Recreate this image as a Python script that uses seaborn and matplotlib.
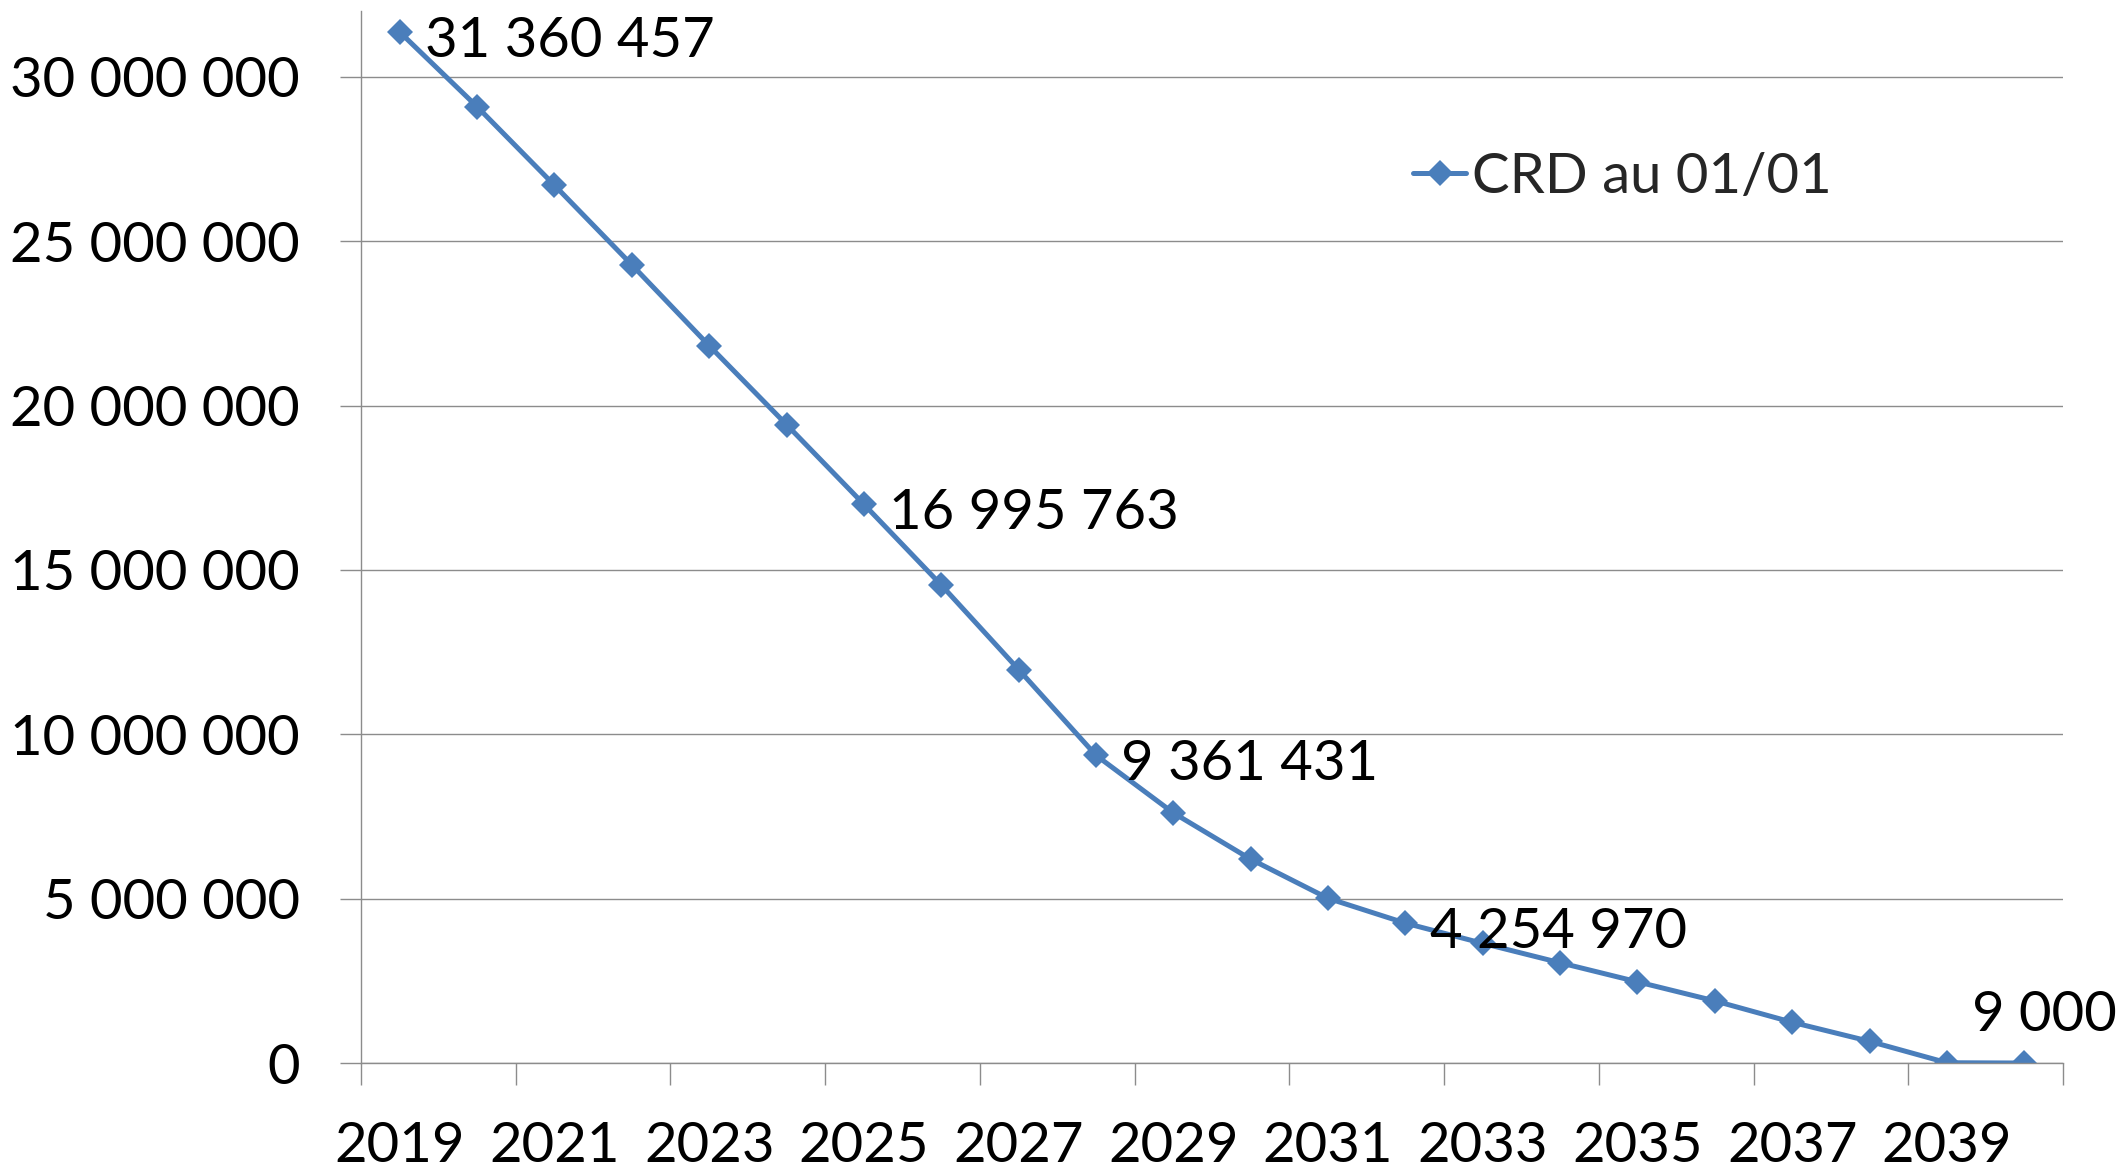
import matplotlib
matplotlib.use("Agg")
import matplotlib.pyplot as plt
from matplotlib.ticker import FuncFormatter
import seaborn as sns
import numpy as np
import pandas as pd

# capital restant du au 01/01, par annee
years = list(range(2019, 2041))
crd = [31360457, 29090000, 26700000, 24280000, 21820000, 19420000,
       16995763, 14540000, 11970000, 9361431, 7610000, 6200000,
       5010000, 4254970, 3640000, 3050000, 2470000, 1890000,
       1240000, 660000, 9000, 0]
label_years = [2019, 2025, 2028, 2032, 2039]
series_name = "CRD au 01/01"
y_ticks = [0, 5000000, 10000000, 15000000, 20000000, 25000000, 30000000]

blue = "#4A7EBB"
gray = "#8C8C8C"
fs = 40.5


def fmt(v, pos=None):
    return f"{int(v):,}".replace(",", " ")


df = pd.DataFrame({"annee": [str(y) for y in years], "crd": crd})

sns.set_theme(style="white")
plt.rcParams["font.family"] = ["Lato", "DejaVu Sans"]

fig = plt.figure(figsize=(21.2, 11.71), dpi=100)
ax = fig.add_axes([0.1703, 0.0922, 0.8028, 0.8984])

sns.lineplot(data=df, x="annee", y="crd", ax=ax, color=blue, lw=3.6,
             marker="D", markersize=13, markeredgewidth=0, sort=False,
             label=series_name)

# etiquettes de donnees
for yr in label_years:
    i = years.index(yr)
    v = crd[i]
    dy = 34 if yr == 2039 else -6.5
    ax.annotate(fmt(v), (i, v), xytext=(18, dy), textcoords="offset points",
                ha="left", va="center", fontsize=fs, color="black",
                annotation_clip=False)

ax.set_xlim(-0.5, len(years) - 0.5)
ax.set_ylim(0, 32000000)

ax.set_yticks(y_ticks)
ax.yaxis.set_major_formatter(FuncFormatter(fmt))
ax.set_xticks(np.arange(-0.5, len(years), 2))
ax.set_xticklabels([])
ax.set_xticks(range(0, len(years), 2), [str(y) for y in years[::2]], minor=True)

ax.tick_params(axis="y", left=True, length=15, width=1, color=gray,
               pad=29, labelsize=fs, labelcolor="black")
ax.tick_params(axis="x", which="major", bottom=True, length=16, width=1,
               color=gray, direction="out")
ax.tick_params(axis="x", which="minor", bottom=True, length=0, pad=42,
               labelsize=fs, labelcolor="black")

ax.yaxis.grid(True, color=gray, lw=1)
ax.xaxis.grid(False)
for s in ["top", "right"]:
    ax.spines[s].set_visible(False)
for s in ["left", "bottom"]:
    ax.spines[s].set_color(gray)
    ax.spines[s].set_linewidth(1)
ax.set_xlabel("")
ax.set_ylabel("")

ax.legend(loc="center left", bbox_to_anchor=(1413 / 2120, 1 - 177 / 1171),
          bbox_transform=fig.transFigure, frameon=False, fontsize=fs,
          handlelength=0.95, handletextpad=0.1, borderpad=0, borderaxespad=0)

fig.savefig("out.png", dpi=100)
